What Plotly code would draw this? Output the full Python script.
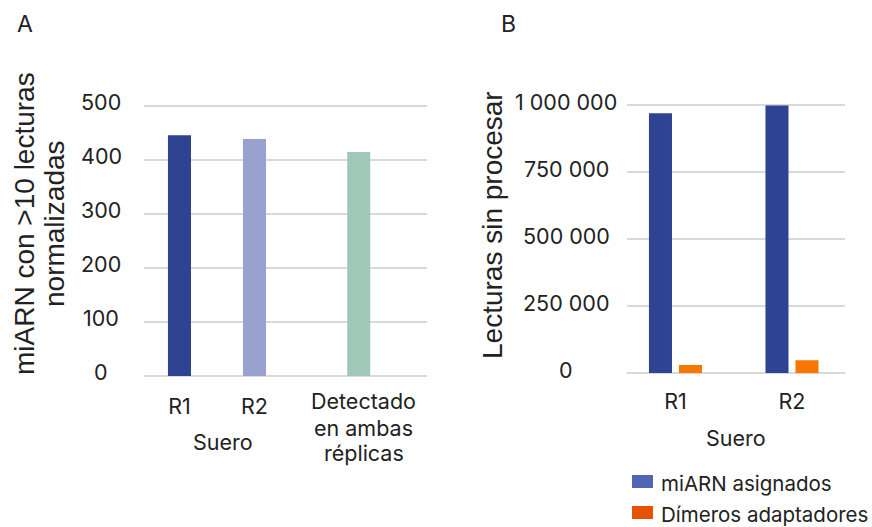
import plotly.graph_objects as go

# ---------------- data ----------------
cats_a = ["R1", "R2", "Detectado<br>en ambas<br>réplicas"]
vals_a = [446, 439, 415]
group_a = "Suero"
ytitle_a = ["miARN con >10 lecturas", "normalizadas"]

cats_b = ["R1", "R2"]
mirna_b = [969000, 998000]
dimer_b = [30000, 48000]
group_b = "Suero"
series_b = ["miARN asignados", "Dímeros adaptadores"]
ytitle_b = "Lecturas sin procesar"

ticks_a = [0, 100, 200, 300, 400, 500]
ticklabels_a = ["0", "100", "200", "300", "400", "500"]
ticks_b = [0, 250000, 500000, 750000, 1000000]
ticklabels_b = ["0", "250 000", "500 000", "750 000", "1 000 000"]

# ---------------- styling / layout helpers ----------------
W, H = 872, 527
FONT = "Inter"
TFONT = "Liberation Sans"
TXT = "#222222"
GRID = "#d9d9d9"
colors_a = ["#2e4391", "#99a1cf", "#a0c8b8"]
color_mirna = "#2e4391"
color_dimer = "#f87500"
swatch_colors = ["#5065b5", "#e65300"]
FS = 21.5

def px_x(p):
    return p / W

def px_y(p):
    return 1 - p / H

# category slot positions for panel A (second group set apart)
slot_a = [0, 1, 2.39]

fig = go.Figure()

fig.add_trace(go.Bar(
    x=slot_a, y=vals_a, width=0.307,
    marker=dict(color=colors_a, line=dict(width=0)),
    showlegend=False, xaxis="x", yaxis="y",
))

fig.add_trace(go.Bar(
    x=cats_b, y=mirna_b, name=series_b[0],
    marker=dict(color=color_mirna, line=dict(width=0)),
    showlegend=False, xaxis="x2", yaxis="y2",
))
fig.add_trace(go.Bar(
    x=cats_b, y=dimer_b, name=series_b[1],
    marker=dict(color=color_dimer, line=dict(width=0)),
    showlegend=False, xaxis="x2", yaxis="y2",
))

annotations = []
for v, t in zip(ticks_a, ticklabels_a):
    annotations.append(dict(x=px_x(101), xref="paper", y=v, yref="y", text=t,
                            showarrow=False, xanchor="center", yanchor="middle",
                            yshift=4, font=dict(size=FS, color=TXT, family=FONT)))
for v, t in zip(ticks_b, ticklabels_b):
    annotations.append(dict(x=px_x(566), xref="paper", y=v, yref="y2", text=t,
                            showarrow=False, xanchor="center", yanchor="middle",
                            yshift=3, font=dict(size=FS, color=TXT, family=FONT)))

# category labels of panel A: single-line ones as axis ticks, the multi-line one
# drawn line by line (tighter line spacing than plotly's default)
tick_text_a = [c if "<br>" not in c else "" for c in cats_a]
label_rows = [401, 428, 453]
for xv, c in zip(slot_a, cats_a):
    if "<br>" in c:
        for line, yc in zip(c.split("<br>"), label_rows):
            annotations.append(dict(x=xv, xref="x", y=px_y(yc), yref="paper",
                                    text=line, showarrow=False, xanchor="center",
                                    yanchor="middle", xshift=5,
                                    font=dict(size=FS, color=TXT, family=FONT)))

annotations += [
    dict(x=px_x(15), y=px_y(24), xref="paper", yref="paper", text="A",
         showarrow=False, xanchor="left", yanchor="middle",
         font=dict(size=23, color=TXT, family=FONT)),
    dict(x=px_x(499), y=px_y(24), xref="paper", yref="paper", text="B",
         showarrow=False, xanchor="left", yanchor="middle",
         font=dict(size=23, color=TXT, family=FONT)),
    dict(x=px_x(24), y=px_y(224), xref="paper", yref="paper",
         text=ytitle_a[0], textangle=-90,
         showarrow=False, xanchor="center", yanchor="middle",
         font=dict(size=28, color=TXT, family=TFONT)),
    dict(x=px_x(54), y=px_y(224), xref="paper", yref="paper",
         text=ytitle_a[1], textangle=-90,
         showarrow=False, xanchor="center", yanchor="middle",
         font=dict(size=28, color=TXT, family=TFONT)),
    dict(x=px_x(492), y=px_y(225), xref="paper", yref="paper",
         text=ytitle_b, textangle=-90,
         showarrow=False, xanchor="center", yanchor="middle",
         font=dict(size=28, color=TXT, family=TFONT)),
    dict(x=px_x(223), y=px_y(442), xref="paper", yref="paper", text=group_a,
         showarrow=False, xanchor="center", yanchor="middle",
         font=dict(size=FS, color=TXT, family=FONT)),
    dict(x=px_x(736), y=px_y(438), xref="paper", yref="paper", text=group_b,
         showarrow=False, xanchor="center", yanchor="middle",
         font=dict(size=FS, color=TXT, family=FONT)),
]

# legend (swatch + label per series of panel B)
shapes = []
legend_rows = [481.5, 512.5]
for name, col, yc in zip(series_b, swatch_colors, legend_rows):
    shapes.append(dict(type="rect", xref="paper", yref="paper",
                       x0=px_x(632), x1=px_x(653), y0=px_y(yc + 6.5), y1=px_y(yc - 6.5),
                       fillcolor=col, line=dict(width=0)))
    annotations.append(dict(x=px_x(660), y=px_y(yc + 2), xref="paper", yref="paper",
                            text=name, showarrow=False, xanchor="left", yanchor="middle",
                            borderpad=0,
                            font=dict(size=20.5, color=TXT, family=FONT)))

axis_common = dict(showline=False, ticks="", zeroline=False, showgrid=False,
                   tickfont=dict(size=FS, color=TXT, family=FONT))
yaxis_common = dict(showline=False, ticks="", showticklabels=False,
                    showgrid=True, gridcolor=GRID, gridwidth=2,
                    zeroline=True, zerolinecolor=GRID, zerolinewidth=2)

fig.update_layout(
    width=W, height=H,
    margin=dict(l=0, r=0, t=0, b=0, autoexpand=False),
    paper_bgcolor="white", plot_bgcolor="white",
    font=dict(family=FONT, color=TXT, size=FS),
    bargap=0.485, bargroupgap=0.233, barmode="group",
    showlegend=False,
    xaxis=dict(domain=[px_x(144), px_x(427)], range=[-0.473, 3.30],
               tickmode="array", tickvals=slot_a, ticktext=tick_text_a,
               ticklabelstandoff=13, anchor="y", **axis_common),
    yaxis=dict(domain=[px_y(378.16), px_y(103.3)], range=[-4, 505],
               tickmode="array", tickvals=ticks_a, anchor="x", **yaxis_common),
    xaxis2=dict(domain=[px_x(627), px_x(845)], range=[-0.416, 1.455],
                type="category", ticklabelstandoff=11, anchor="y2", **axis_common),
    yaxis2=dict(domain=[px_y(375.68), px_y(101.78)], range=[-10000, 1012000],
                tickmode="array", tickvals=ticks_b, anchor="x2", **yaxis_common),
    annotations=annotations,
    shapes=shapes,
)

fig.write_html("out.html",
               config={"displayModeBar": False},
               post_script="document.body.style.margin='0';document.body.style.padding='0';")
